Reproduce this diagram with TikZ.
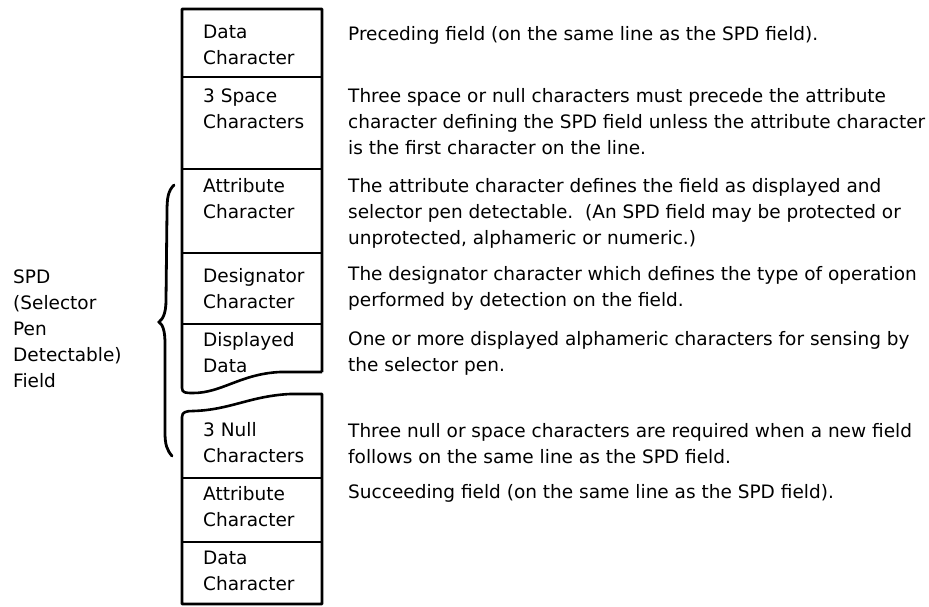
\documentclass[tikz,border=0pt]{standalone}
\usepackage{fontspec}
\setmainfont{DejaVu Sans}
\begin{document}
\begin{tikzpicture}[x=1pt,y=-1pt,
  boxline/.style={line width=2.6pt, line join=round},
  bracestyle/.style={line width=2.8pt, line cap=round},
  lbl/.style={anchor=base west, inner sep=0pt, align=left,
    font=\fontsize{18.5}{26}\selectfont},
]
\useasboundingbox (0,0) rectangle (929,606);
% upper block
\draw[boxline] (322,372) -- (322,9) -- (182,9) -- (182,388)
  .. controls (182,393) and (186,393) .. (193,393)
  .. controls (222,393) and (240,374) .. (280,372) -- (322,372);
\draw[boxline] (182,77) -- (322,77);
\draw[boxline] (182,169) -- (322,169);
\draw[boxline] (182,253) -- (322,253);
\draw[boxline] (182,324) -- (322,324);
% lower block
\draw[boxline] (322,604) -- (322,394) -- (290,394)
  .. controls (250,396) and (230,410) .. (193,411)
  .. controls (186,411) and (182,412) .. (182,417) -- (182,604) -- cycle;
\draw[boxline] (182,478) -- (322,478);
\draw[boxline] (182,542) -- (322,542);
% brace
\draw[bracestyle] (174,185) .. controls (168,191) and (167,198) .. (167,212)
  -- (166,300) .. controls (166,313) and (163,319) .. (159,322)
  .. controls (163,325) and (165,331) .. (165,344)
  -- (165,432) .. controls (165,445) and (167,450) .. (172,456);
% box labels (anchor = baseline of last line)
\node[lbl] (b1) at (203,64)  {Data\\Character};
\node[lbl] (b2) at (203,128) {3 Space\\Characters};
\node[lbl] (b3) at (203,218) {Attribute\\Character};
\node[lbl] (b4) at (203,308) {Designator\\Character};
\node[lbl] (b5) at (203,372) {Displayed\\Data};
\node[lbl] (b6) at (203,462) {3 Null\\Characters};
\node[lbl] (b7) at (203,526) {Attribute\\Character};
\node[lbl] (b8) at (203,590) {Data\\Character};
% left label
\node[lbl] (spd) at (13,387) {SPD\\(Selector\\Pen\\Detectable)\\Field};
% descriptions
\node[lbl] (d1) at (348,40)  {Preceding field (on the same line as the SPD field).};
\node[lbl] (d2) at (348,154) {Three space or null characters must precede the attribute\\character defining the SPD field unless the attribute character\\is the first character on the line.};
\node[lbl] (d3) at (348,244) {The attribute character defines the field as displayed and\\selector pen detectable.~~(An SPD field may be protected or\\unprotected, alphameric or numeric.)};
\node[lbl] (d4) at (348,306) {The designator character which defines the type of operation\\performed by detection on the field.};
\node[lbl] (d5) at (348,371) {One or more displayed alphameric characters for sensing by\\the selector pen.};
\node[lbl] (d6) at (348,463) {Three null or space characters are required when a new field\\follows on the same line as the SPD field.};
\node[lbl] (d7) at (348,498) {Succeeding field (on the same line as the SPD field).};
\end{tikzpicture}
\end{document}
